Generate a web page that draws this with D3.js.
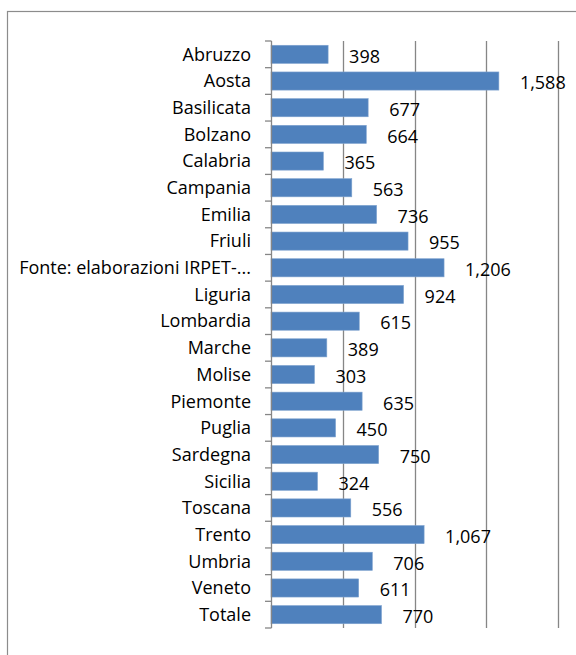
<!DOCTYPE html>
<html>
<head>
<meta charset="utf-8">
<script src="https://cdn.jsdelivr.net/npm/d3@7"></script>
<style>
  body { margin: 0; background: #fff; }
  svg text { font-family: "Open Sans", sans-serif; }
</style>
</head>
<body>
<script>
// categories and values
var regions = ["Abruzzo", "Aosta", "Basilicata", "Bolzano", "Calabria", "Campania", "Emilia",
  "Friuli", "Fonte: elaborazioni IRPET-...", "Liguria", "Lombardia", "Marche", "Molise",
  "Piemonte", "Puglia", "Sardegna", "Sicilia", "Toscana", "Trento", "Umbria", "Veneto", "Totale"];
var values = [398, 1588, 677, 664, 365, 563, 736, 955, 1206, 924, 615, 389, 303, 635, 450,
  750, 324, 556, 1067, 706, 611, 770];
var gridTicks = [500, 1000, 1500, 2000];

var data = regions.map(function (r, i) { return {region: r, value: values[i]}; });

var W = 576, H = 655;
var margin = {top: 41, left: 271},
  width = 558 - margin.left,
  height = 628 - margin.top;

var svg = d3.select("body").append("svg")
  .attr("width", W)
  .attr("height", H);

// chart frame, runs past the window on the right and bottom
svg.append("rect")
  .attr("x", 7.5).attr("y", 11.5)
  .attr("width", 600).attr("height", 700)
  .attr("fill", "none")
  .attr("stroke", "#8c8c8c")
  .attr("stroke-width", 1.2);

var g = svg.append("g")
  .attr("transform", "translate(" + margin.left + "," + margin.top + ")");

var x = d3.scaleLinear().domain([0, 2000]).range([0, width]);
var y = d3.scaleBand().domain(regions).range([0, height]).paddingInner(0.32).paddingOuter(0.16);

// vertical gridlines
g.selectAll(".grid")
  .data(gridTicks)
  .enter().append("line")
  .attr("x1", function (d) { return Math.round(x(d)) + 0.5; })
  .attr("x2", function (d) { return Math.round(x(d)) + 0.5; })
  .attr("y1", 0).attr("y2", height)
  .attr("stroke", "#868686")
  .attr("stroke-width", 1.3);

// bars
g.selectAll(".bar")
  .data(data)
  .enter().append("rect")
  .attr("x", x(0))
  .attr("y", function (d) { return y(d.region); })
  .attr("width", function (d) { return x(d.value) - x(0); })
  .attr("height", y.bandwidth())
  .attr("fill", "#4f81bd")
  .attr("stroke", "#7fa3cf")
  .attr("stroke-width", 0.6);

// value labels
var fmt = d3.format(",");
g.selectAll(".lbl")
  .data(data)
  .enter().append("text")
  .attr("x", function (d) { return x(d.value) + 21; })
  .attr("y", function (d) { return y(d.region) + y.bandwidth() / 2 + 2; })
  .attr("dy", "0.35em")
  .attr("font-size", "18px")
  .attr("fill", "#000")
  .text(function (d) { return fmt(d.value); });

// category axis with ticks between categories
var yAxis = g.append("g");
yAxis.append("line")
  .attr("x1", 0.5).attr("x2", 0.5)
  .attr("y1", 0).attr("y2", height)
  .attr("stroke", "#868686").attr("stroke-width", 1.3);
yAxis.selectAll(".tk")
  .data(d3.range(regions.length + 1))
  .enter().append("line")
  .attr("x1", -6).attr("x2", 0.5)
  .attr("y1", function (i) { return i * height / regions.length; })
  .attr("y2", function (i) { return i * height / regions.length; })
  .attr("stroke", "#868686").attr("stroke-width", 1.3);
yAxis.selectAll(".cat")
  .data(regions)
  .enter().append("text")
  .attr("x", -20)
  .attr("y", function (d) { return y(d) + y.bandwidth() / 2; })
  .attr("dy", "0.35em")
  .attr("text-anchor", "end")
  .attr("font-size", "18px")
  .attr("fill", "#000")
  .text(function (d) { return d; });
</script>
</body>
</html>
